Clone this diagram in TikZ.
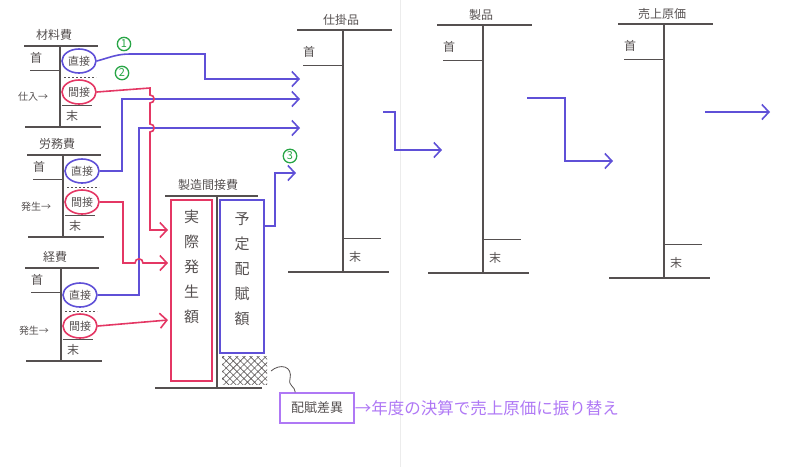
\documentclass[tikz,border=0pt]{standalone}
\usepackage{fontspec}
\setmainfont{Noto Sans CJK JP}
\usetikzlibrary{arrows.meta,shapes.geometric,patterns.meta}

\definecolor{tgray}{RGB}{85,80,80}
\definecolor{cblue}{RGB}{95,80,215}
\definecolor{cred}{RGB}{228,55,100}
\definecolor{cgreen}{RGB}{40,165,70}
\definecolor{cviolet}{RGB}{175,120,245}

\begin{document}
\begin{tikzpicture}[x=1pt, y=-1pt,
    tline/.style={draw=tgray, line width=2pt},
    thin line/.style={draw=tgray, line width=0.7pt},
    label text/.style={text=tgray, inner sep=0pt, font=\fontsize{12}{12}\selectfont},
    direct/.style={ellipse, draw=cblue, line width=1.6pt, minimum width=34pt, minimum height=24pt,
        inner sep=0pt, text=tgray, font=\fontsize{11}{11}\selectfont},
    indirect/.style={direct, draw=cred},
    flow/.style={line width=1.6pt, -{Straight Barb[length=7pt,width=15pt]}},
    num/.style={circle, draw=cgreen, text=cgreen, line width=1.3pt, inner sep=1.2pt,
        font=\fontsize{11}{11}\selectfont}]
    \useasboundingbox (0,0) rectangle (800,467);
    \tikzset{box/.style={line width=1.8pt, minimum width=41pt, minimum height=181pt}};
    \draw[gray!15, line width=0.8pt] (400,0) -- (400,467);

    % cost accounts
    \foreach \n/\ttl/\side/\cx/\ct/\cb in {mat/材料費/仕入/60/46/127, lab/労務費/発生/63/155/237, exp/経費/発生/61/268/361} {
        \node[label text] (\n-title) at (\cx-6,\ct-11) {\ttl};
        \draw[tline] (\cx-36,\ct) -- (\cx+38,\ct);
        \draw[tline] (\cx,\ct) -- (\cx,\cb);
        \draw[tline] (\cx-35,\cb) -- (\cx+41,\cb);
        \node[label text] (\n-beg) at (\cx-24,\ct+12) {首};
        \draw[thin line] (\cx-30,\ct+24) -- (\cx,\ct+24);
        \node[direct] (\n-d) at (\cx+19,\cb-66) {直接};
        \draw[tgray, line width=0.7pt, dash pattern=on 2pt off 2pt] (\cx+4,\cb-50) -- (\cx+36,\cb-50);
        \node[indirect] (\n-i) at (\cx+19,\cb-35) {間接};
        \draw[thin line] (\cx+2,\cb-22) -- (\cx+32,\cb-22);
        \node[label text] (\n-end) at (\cx+12,\cb-11) {末};
        \node[label text, font=\fontsize{10}{10}\selectfont] (\n-side) at (\cx-27,\cb-30) {\side→};
    }

    % manufacturing overhead
    \node[label text] (moh-title) at (208,185) {製造間接費};
    \draw[tline] (165,196) -- (258,196);
    \draw[tline] (217,196) -- (217,388);
    \draw[tline] (155,388) -- (262,388);
    \node[box, draw=cred] (act) at (191.5,290.5) {};
    \node[box, draw=cblue, minimum width=44pt, minimum height=153pt] (plan) at (242,276.5) {};
    \foreach \c [count=\i] in {実,際,発,生,額}
        \node[label text, font=\fontsize{15}{15}\selectfont] (act-\i) at (191.5,192+25*\i) {\c};
    \foreach \c [count=\i] in {予,定,配,賦,額}
        \node[label text, font=\fontsize{15}{15}\selectfont] (plan-\i) at (242,194+25*\i) {\c};
    \fill[pattern={Lines[angle=45,distance=5pt,line width=0.6pt]}, pattern color=tgray]
        (222,356) rectangle (267,384);
    \fill[pattern={Lines[angle=-45,distance=5pt,line width=0.6pt]}, pattern color=tgray]
        (222,356) rectangle (267,384);
    \coordinate (hatch) at (271,371);

    % work in process, finished goods, cost of sales
    \foreach \n/\ttl/\cx/\ct/\cb in {wip/仕掛品/343/30/272, fg/製品/483/25/273, cogs/売上原価/664/24/278} {
        \node[label text] (\n-title) at (\cx-2,\ct-10) {\ttl};
        \draw[tline] (\cx-46,\ct) -- (\cx+49,\ct);
        \draw[tline] (\cx,\ct) -- (\cx,\cb);
        \draw[tline] (\cx-55,\cb) -- (\cx+46,\cb);
        \node[label text] (\n-beg) at (\cx-34,\ct+22) {首};
        \draw[thin line] (\cx-40,\ct+35) -- (\cx,\ct+35);
        \draw[thin line] (\cx,\cb-34) -- (\cx+38,\cb-34);
        \node[label text] (\n-end) at (\cx+12,\cb-15) {末};
    }

    \coordinate (wip-in1) at (300,79);
    \coordinate (wip-in2) at (300,99);
    \coordinate (wip-in3) at (300,128);
    \coordinate (wip-in4) at (296,173);
    \coordinate (moh-in1) at (168,230);
    \coordinate (moh-in2) at (168,263);
    \coordinate (moh-in3) at (168,320);
    \coordinate (wip-out) at (383,112);
    \coordinate (fg-in) at (442,150);
    \coordinate (fg-out) at (527,98);
    \coordinate (cogs-in) at (613,161);
    \coordinate (cogs-out) at (705,112);
    \coordinate (cogs-to) at (770,112);

    % direct costs
    \draw[cblue, flow] (mat-d.east) to[out=15,in=180] (130,54) -- (205,54) |- (wip-in1);
    \draw[cblue, flow] (lab-d.east) -| (122,99) -- (wip-in2);
    \draw[cblue, flow] (exp-d.east) -| (139,128) -- (wip-in3);
    % indirect costs
    \draw[cred, flow] (mat-i.east) -- (150,88) -- (150,95) .. controls (155.5,95) and (155.5,103) .. (150,103)
        -- (150,124) .. controls (155.5,124) and (155.5,132) .. (150,132) -- (150,230) -- (moh-in1);
    \draw[cred, flow] (lab-i.east) -| (123,263) -- (135,263) .. controls (135,257.5) and (143,257.5) .. (143,263)
        -- (moh-in2);
    \draw[cred, flow] (exp-i.east) -- (moh-in3);
    % applied overhead
    \draw[cblue, flow] ([yshift=-27pt]plan.north east) -| (275,173) -- (wip-in4);
    \draw[cblue, flow] (wip-out) -| (395,150) -- (fg-in);
    \draw[cblue, flow] (fg-out) -| (565,161) -- (cogs-in);
    \draw[cblue, flow] (cogs-out) -- (cogs-to);

    \node[num] (n1) at (124,44) {1};
    \node[num] (n2) at (122,73) {2};
    \node[num] (n3) at (290,156) {3};

    \node[draw=cviolet, line width=1.5pt, minimum width=74pt, minimum height=30pt, label text,
        font=\fontsize{13}{13}\selectfont] (diff) at (317,408) {配賦差異};
    \node[text=cviolet, inner sep=0pt, anchor=west, font=\fontsize{16.5}{16.5}\selectfont] (note) at (diff.east) {→年度の決算で売上原価に振り替え};
    \draw[tgray, line width=0.8pt] (hatch) .. controls (280,363) and (293,366) .. (290,379)
        .. controls (288,386) and (295,386) .. ([xshift=16pt]diff.north west);
\end{tikzpicture}
\end{document}
